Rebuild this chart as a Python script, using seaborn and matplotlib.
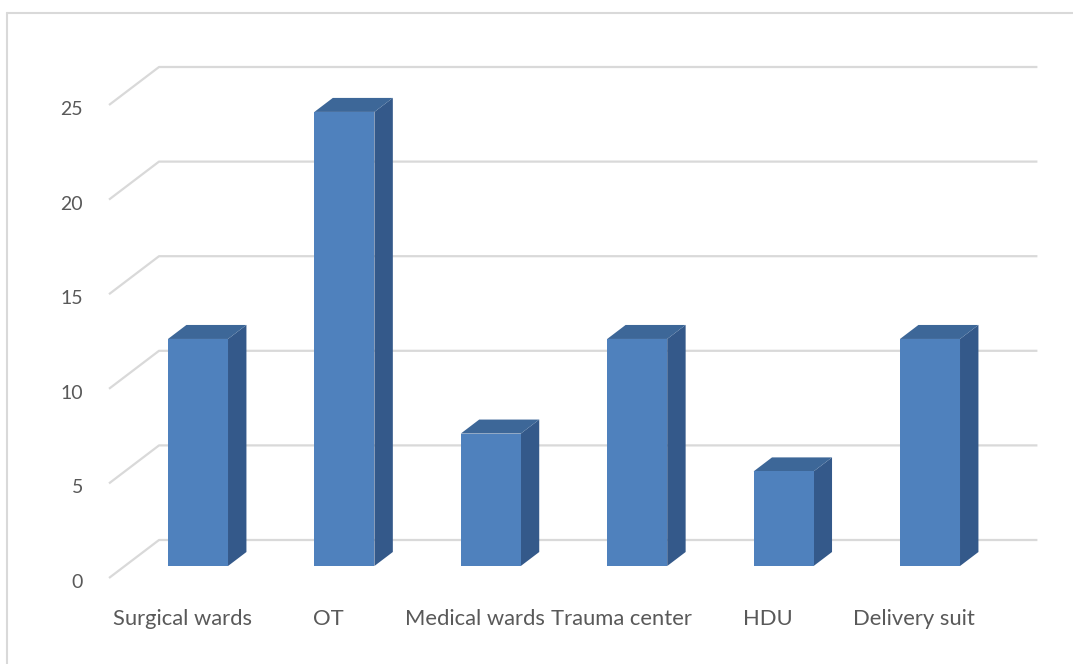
import matplotlib
matplotlib.use("Agg")
import matplotlib.pyplot as plt
from matplotlib.patches import Polygon
from matplotlib.lines import Line2D
import pandas as pd
import seaborn as sns

# Data
wards = ["Surgical wards", "OT", "Medical wards", "Trauma center", "HDU", "Delivery suit"]
counts = [12, 24, 7, 12, 5, 12]
y_ticks = [0, 5, 10, 15, 20, 25]

# Canvas
W, H, DPI = 1073, 664, 100
sns.set_theme(style="white")
plt.rcParams["font.family"] = ["Lato", "DejaVu Sans"]

FRONT = "#4f81bd"
TOP = "#3d6798"
SIDE = "#34598a"
GRID = "#d9d9d9"
TEXT = "#595959"

fig = plt.figure(figsize=(W / DPI, H / DPI), dpi=DPI)
fig.patch.set_facecolor("white")
ax = fig.add_axes([0, 0, 1, 1])

# pixel scale of one category step and one value unit on the bar front plane
step_px = 146.4
unit_px = 18.92
x0_px = 198.0
y0_px = 566.0

# oblique depth of the floor (pixels), bar slab position inside it
depth_dx_px, depth_dy_px = 50.0, 38.0
kx = depth_dx_px / step_px
ky = depth_dy_px / unit_px
t0 = 12.0 / 38.0
t1 = 26.0 / 38.0


def proj(i, v, t):
    """Oblique projection of (category, value, depth) into axes data units."""
    return i + (t - t0) * kx, v + (t - t0) * ky


df = pd.DataFrame({"ward": wards, "count": counts})
sns.barplot(data=df, x="ward", y="count", color=FRONT, saturation=1,
            width=0.41, ax=ax, zorder=3, linewidth=0)

ax.set_xlim(-x0_px / step_px, (W - x0_px) / step_px)
ax.set_ylim((y0_px - H) / unit_px, y0_px / unit_px)
ax.set_axis_off()

# back wall gridlines and left wall diagonals
lo, hi = -0.5, len(wards) - 0.5
for v in y_ticks:
    p0 = proj(lo, v, 0)
    p1 = proj(lo, v, 1)
    p2 = proj(hi, v, 1)
    ax.plot([p0[0], p1[0], p2[0]], [p0[1], p1[1], p2[1]],
            color=GRID, lw=1.6, zorder=1, solid_capstyle="butt")

# side and top faces of each bar
ddx, ddy = (t1 - t0) * kx, (t1 - t0) * ky
for bar in list(ax.patches):
    x, y = bar.get_x(), bar.get_y()
    w, h = bar.get_width(), bar.get_height()
    side = Polygon([(x + w, y), (x + w, y + h), (x + w + ddx, y + h + ddy),
                    (x + w + ddx, y + ddy)], closed=True,
                   facecolor=SIDE, edgecolor="none", zorder=2)
    top = Polygon([(x, y + h), (x + w, y + h), (x + w + ddx, y + h + ddy),
                   (x + ddx, y + h + ddy)], closed=True,
                  facecolor=TOP, edgecolor="none", zorder=2)
    ax.add_patch(side)
    ax.add_patch(top)

# value axis labels on the front edge of the left wall
for v in y_ticks:
    px, py = proj(lo, v, 0)
    ax.annotate(str(v), (px, py), xytext=(-26, -10), textcoords="offset pixels",
                ha="right", va="baseline", fontsize=14, color=TEXT)

# category labels under the floor front edge
for i, name in enumerate(wards):
    px, py = proj(i, 0, 0)
    ax.annotate(name, (px, py), xytext=(0, -47), textcoords="offset pixels",
                ha="center", va="baseline", fontsize=15.8, color=TEXT)

# chart frame
fx, fy = 7 / W, 1 - 13 / H
fig.add_artist(Line2D([fx, fx], [0, fy], transform=fig.transFigure, color=GRID, lw=1.5))
fig.add_artist(Line2D([fx, 1], [fy, fy], transform=fig.transFigure, color=GRID, lw=1.5))

fig.savefig("out.png", dpi=DPI)
